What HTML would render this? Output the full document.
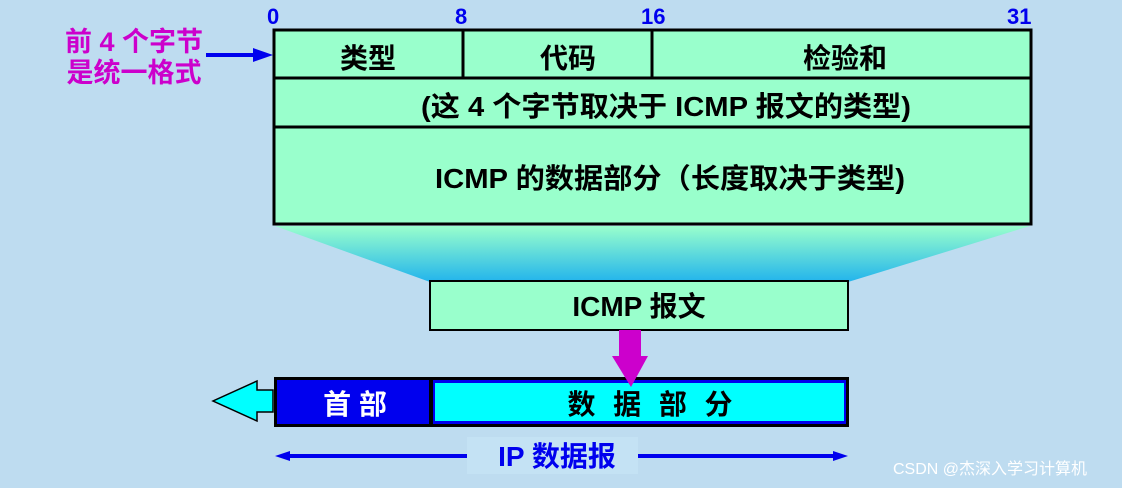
<!DOCTYPE html>
<html><head><meta charset="utf-8"><style>
html,body{margin:0;padding:0;background:#BEDCF0;}
svg{display:block;}
text{font-family:"Liberation Sans","Noto Sans CJK SC",sans-serif;font-weight:bold;}
</style></head><body>
<svg width="1122" height="488" viewBox="0 0 1122 488" xmlns="http://www.w3.org/2000/svg">
<defs>
<linearGradient id="g" x1="0" y1="0" x2="0" y2="1">
<stop offset="0" stop-color="#99FFCC"/><stop offset="1" stop-color="#22B4EC"/>
</linearGradient>
</defs>
<rect width="1122" height="488" fill="#BEDCF0"/>
<polygon points="275,226 1030,226 848,282 430,282" fill="url(#g)"/>
<g fill="#0000EE" font-size="22">
<text x="267" y="24">0</text><text x="455" y="24">8</text>
<text x="641" y="24">16</text><text x="1007" y="24">31</text>
</g>
<rect x="274" y="30" width="757" height="194" fill="#99FFCC" stroke="#000" stroke-width="3"/>
<line x1="274" y1="78" x2="1031" y2="78" stroke="#000" stroke-width="3"/>
<line x1="274" y1="127" x2="1031" y2="127" stroke="#000" stroke-width="3"/>
<line x1="463" y1="30" x2="463" y2="78" stroke="#000" stroke-width="3"/>
<line x1="652" y1="30" x2="652" y2="78" stroke="#000" stroke-width="3"/>
<g font-size="28" fill="#000" text-anchor="middle">
<text x="368" y="68">类型</text>
<text x="568" y="68">代码</text>
<text x="845" y="68">检验和</text>
<text x="666" y="116" textLength="490" lengthAdjust="spacingAndGlyphs">(这 4 个字节取决于 ICMP 报文的类型)</text>
<text x="670" y="188" textLength="470" lengthAdjust="spacingAndGlyphs">ICMP 的数据部分（长度取决于类型)</text>
</g>
<g fill="#CC00CC" font-size="27" text-anchor="middle">
<text x="134" y="51">前 4 个字节</text>
<text x="134" y="82">是统一格式</text>
</g>
<line x1="206" y1="55" x2="255" y2="55" stroke="#0000EE" stroke-width="4"/>
<polygon points="253,48 273,55 253,62" fill="#0000EE"/>
<rect x="430" y="281" width="418" height="49" fill="#99FFCC" stroke="#000" stroke-width="2"/>
<text x="639" y="316" font-size="28" text-anchor="middle" fill="#000">ICMP 报文</text>
<polygon points="273,390 257,390 257,381 213,401 257,421 257,412 273,412" fill="#00FFFF" stroke="#000" stroke-width="1.5"/>
<rect x="274" y="377" width="575" height="50" fill="#000"/>
<rect x="277" y="380" width="152" height="44" fill="#0000EE"/>
<rect x="433" y="380" width="413" height="44" fill="#0000EE"/>
<rect x="435" y="383" width="409" height="38" fill="#00FFFF"/>
<text x="355" y="414" font-size="28" fill="#fff" text-anchor="middle">首 部</text>
<text x="650" y="414" font-size="28" fill="#000" text-anchor="middle" textLength="165" lengthAdjust="spacing">数 据 部 分</text>
<rect x="619" y="330" width="22" height="27" fill="#CC00CC"/>
<polygon points="612,356 648,356 631,387" fill="#CC00CC"/>
<line x1="285" y1="456" x2="838" y2="456" stroke="#0000EE" stroke-width="4"/>
<polygon points="275,456 290,451 290,461" fill="#0000EE"/>
<polygon points="848,456 833,451 833,461" fill="#0000EE"/>
<rect x="467" y="437" width="171" height="37" fill="#C4E2F4"/>
<text x="557" y="466" font-size="28" fill="#0000EE" text-anchor="middle">IP 数据报</text>
<text x="990" y="474" font-size="16" fill="#fff" text-anchor="middle" style="font-weight:normal">CSDN @杰深入学习计算机</text>
</svg>
</body></html>
